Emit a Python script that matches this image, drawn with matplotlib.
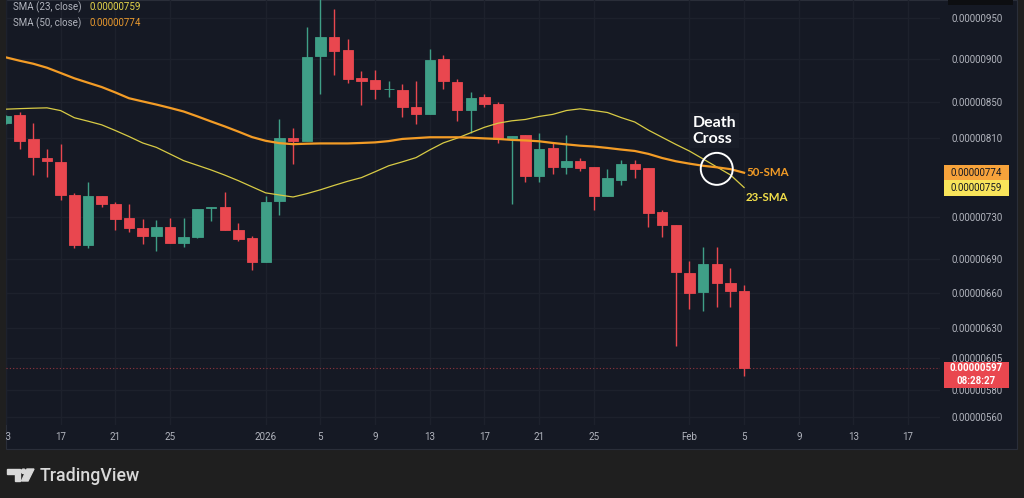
"""TradingView-style daily candles with SMA 23 / SMA 50 death cross."""
import matplotlib
matplotlib.use("Agg")
import matplotlib.pyplot as plt
import matplotlib.dates as mdates
from matplotlib.patches import Rectangle, Ellipse, Polygon
from matplotlib.ticker import NullLocator, NullFormatter
import numpy as np
import pandas as pd

# ---- data (prices in units of 1e-8) ----
dates = pd.date_range("2025-12-13", "2026-02-05", freq="D")

opens = [827.0, 835.5, 809.0, 789.1, 784.6, 751.9, 703.2, 750.5, 742.6, 728.8,
         719.2, 711.6, 720.4, 705.3, 710.4, 738.5, 739.2, 717.6, 709.7, 687.7,
         745.3, 810.8, 807.2, 903.3, 926.4, 910.9, 878.1, 875.0, 864.6, 863.8,
         844.2, 836.7, 899.7, 872.7, 841.2, 855.5, 847.9, 810.1, 814.0, 771.1,
         800.0, 780.0, 786.2, 780.4, 750.2, 767.0, 783.5, 778.9, 734.3, 721.8,
         678.0, 661.1, 686.2, 668.4, 661.4]
highs = [836.0, 839.2, 827.0, 798.6, 803.9, 753.5, 764.5, 750.5, 744.6, 742.3,
         727.8, 726.8, 728.5, 728.5, 737.5, 739.9, 754.8, 723.7, 711.6, 750.2,
         830.8, 820.9, 939.5, 980.0, 961.8, 923.9, 885.9, 887.0, 874.2, 870.7,
         874.2, 912.1, 904.9, 876.2, 861.2, 858.9, 850.5, 812.6, 814.0, 816.2,
         804.7, 813.7, 789.4, 780.4, 778.3, 787.7, 787.0, 778.9, 736.5, 721.8,
         688.9, 701.6, 701.6, 682.3, 667.3]
lows = [826.0, 798.3, 772.1, 769.6, 747.0, 700.1, 700.1, 739.2, 717.3, 715.1,
        704.1, 697.9, 705.3, 701.6, 709.7, 725.9, 717.3, 707.2, 680.7, 687.7,
        732.0, 783.5, 807.2, 858.9, 881.2, 871.5, 846.4, 853.2, 855.5, 833.7,
        825.6, 836.7, 865.0, 829.2, 815.5, 844.2, 804.7, 743.0, 764.5, 764.5,
        773.1, 773.1, 775.8, 736.5, 750.2, 761.2, 768.6, 720.4, 710.4, 615.4,
        646.1, 644.6, 647.5, 647.5, 591.4]
closes = [834.8, 807.2, 790.5, 785.9, 751.5, 703.2, 750.5, 742.3, 727.5, 718.9,
          711.6, 720.4, 705.3, 710.6, 737.5, 739.5, 717.3, 708.5, 687.7, 744.3,
          810.8, 807.5, 902.8, 926.4, 910.0, 876.2, 873.9, 864.6, 864.8, 844.2,
          836.7, 898.9, 874.2, 840.8, 855.0, 847.9, 809.4, 812.6, 771.1, 798.6,
          780.0, 785.9, 779.3, 750.2, 768.6, 782.8, 778.3, 733.9, 721.8, 678.9,
          660.3, 686.2, 668.4, 661.4, 597.0]

sma23 = [842.1, 842.7, 843.2, 843.6, 840.5, 832.6, 828.8, 824.8, 818.6, 812.1,
         805.2, 800.5, 793.5, 786.5, 781.7, 776.9, 771.6, 765.9, 759.7, 753.6,
         751.5, 749.5, 752.8, 756.7, 761.1, 765.3, 769.0, 775.0, 781.2, 785.3,
         789.7, 797.8, 805.3, 810.3, 816.2, 822.1, 826.6, 829.2, 830.7, 834.0,
         836.3, 840.6, 842.5, 840.6, 838.4, 832.8, 827.9, 819.0, 811.3, 803.7,
         796.6, 788.3, 780.0, 771.8, 759.0]
sma50 = [902.0, 898.0, 894.4, 889.7, 883.5, 877.3, 872.2, 867.2, 861.0, 854.4,
         850.8, 847.3, 843.5, 839.5, 834.1, 828.5, 823.1, 817.4, 811.5, 807.5,
         805.0, 803.9, 804.4, 804.7, 804.7, 804.7, 805.2, 805.8, 807.2, 809.5,
         810.4, 811.3, 811.3, 811.3, 810.8, 810.1, 809.5, 808.5, 807.9, 807.0,
         805.2, 803.7, 802.3, 801.4, 799.9, 798.2, 796.7, 793.6, 789.3, 785.9,
         783.4, 781.2, 779.6, 777.7, 774.0]

price_ticks = [950, 900, 850, 810, 730, 690, 660, 630, 605, 580, 560]
tick_dates = ["2025-12-13", "2025-12-17", "2025-12-21", "2025-12-25", "2026-01-01",
              "2026-01-05", "2026-01-09", "2026-01-13", "2026-01-17", "2026-01-21",
              "2026-01-25", "2026-02-01", "2026-02-05", "2026-02-09", "2026-02-13",
              "2026-02-17"]
tick_labels = ["13", "17", "21", "25", "2026", "5", "9", "13", "17", "21", "25",
               "Feb", "5", "9", "13", "17"]
cross_date = "2026-02-03"
cross_price = 778.0
timer_text = "08:28:27"

# ---- style ----
BG_OUT = "#1f1f1f"
BG = "#151924"
GRID = "#1d212c"
TXT = "#b2b5be"
UP = "#3f9f87"
DOWN = "#e9474f"
ORANGE = "#f39c26"
YELLOW = "#d8cb45"
FONT = "Roboto"

W, H = 1024, 498


def fx(px):
    return px / W


def fy(py):
    return 1 - py / H


fig = plt.figure(figsize=(W / 100, H / 100), dpi=100, facecolor=BG_OUT)

panel = Rectangle((fx(6), fy(449)), fx(1017) - fx(6), fy(0) - fy(449),
                  transform=fig.transFigure, facecolor=BG, edgecolor="#2a2e39",
                  lw=0.8, zorder=0)
fig.add_artist(panel)
fig.add_artist(Rectangle((fx(948), fy(5)), fx(1013) - fx(948), fy(0) - fy(5),
                         transform=fig.transFigure, facecolor="#0d0e11",
                         edgecolor="none", zorder=1))

ax = fig.add_axes([fx(6), fy(425), fx(940) - fx(6), fy(0) - fy(425)])
ax.set_facecolor("none")
ax.set_yscale("log")
px_per_ln = 753.8
ax.set_ylim(950 * np.exp(-(425 - 18.3) / px_per_ln), 950 * np.exp(18.3 / px_per_ln))
d0 = mdates.date2num(pd.Timestamp("2025-12-17"))
px_per_day = 13.71
ax.set_xlim(d0 + (6 - 58) / px_per_day, d0 + (940 - 58) / px_per_day)

x = mdates.date2num(dates)
o = np.array(opens)
c = np.array(closes)
cols = [UP if cc >= oo else DOWN for oo, cc in zip(o, c)]

ax.vlines(x, lows, highs, colors=cols, lw=1, zorder=2)
ax.bar(x, c - o, bottom=o, width=0.76, color=cols, edgecolor=cols,
       linewidth=0.6, zorder=3)

ax.plot(x, sma23, color=YELLOW, lw=0.9, zorder=4)
ax.plot(x, sma50, color=ORANGE, lw=1.6, zorder=4)
ax.axhline(closes[-1], color=DOWN, lw=0.8, ls=(0, (1, 2)), alpha=0.6, zorder=1)

# axes styling
for s in ax.spines.values():
    s.set_visible(False)
ax.yaxis.tick_right()
ax.set_yticks(price_ticks)
ax.set_yticklabels([f"{v * 1e-8:.8f}" for v in price_ticks])
ax.yaxis.set_minor_locator(NullLocator())
ax.yaxis.set_minor_formatter(NullFormatter())
ax.tick_params(axis="y", length=0, pad=8.6, labelsize=7, labelcolor=TXT)
ax.set_xticks(mdates.date2num(pd.to_datetime(tick_dates)))
ax.set_xticklabels(tick_labels)
ax.tick_params(axis="x", length=0, pad=5, labelsize=7, labelcolor=TXT)
for lbl in ax.get_xticklabels() + ax.get_yticklabels():
    lbl.set_fontfamily(FONT)
ax.get_xticklabels()[0].set_clip_path(panel)
ax.grid(True, color=GRID, lw=1)
ax.set_axisbelow(True)

# legend (top-left)
fig.text(fx(13), fy(7), "SMA (23, close)", color=TXT, fontsize=7, family=FONT, va="center")
fig.text(fx(90), fy(7), f"{sma23[-1] * 1e-8:.8f}", color="#e6d64a", fontsize=7,
         family=FONT, va="center")
fig.text(fx(13), fy(23), "SMA (50, close)", color=TXT, fontsize=7, family=FONT, va="center")
fig.text(fx(90), fy(23), f"{sma50[-1] * 1e-8:.8f}", color="#eb9a2e", fontsize=7,
         family=FONT, va="center")


def price_py(p):
    return H - ax.transData.transform((x[0], p))[1]


def data_px(date, p):
    dx, dy = ax.transData.transform((mdates.date2num(pd.Timestamp(date)), p))
    return dx, H - dy


def badge(top, bottom, color, lines, tcolor, weight="normal"):
    fig.add_artist(Rectangle((fx(944), fy(bottom)), fx(1009) - fx(944),
                             fy(top) - fy(bottom), transform=fig.transFigure,
                             facecolor=color, edgecolor="none", zorder=5))
    step = (bottom - top) / len(lines)
    for k, t in enumerate(lines):
        fig.text(fx(976.5), fy(top + step * (k + 0.5)), t, color=tcolor, fontsize=7,
                 family=FONT, ha="center", va="center", weight=weight, zorder=6)


y50 = price_py(sma50[-1])
badge(y50 - 7.7, y50 + 7.7, "#f7a33b", [f"{sma50[-1] * 1e-8:.8f}"], "#131722")
badge(y50 + 7.7, y50 + 23.5, "#f8e45a", [f"{sma23[-1] * 1e-8:.8f}"], "#131722")
yc = price_py(closes[-1])
badge(yc - 6.5, yc + 19.5, DOWN, [f"{closes[-1] * 1e-8:.8f}", timer_text], "white",
      weight="bold")

# death cross annotation
cx, cy = data_px(cross_date, cross_price)
fig.add_artist(Ellipse((fx(cx), fy(cy)), 32 / W, 32 / H, transform=fig.transFigure,
                       facecolor="none", edgecolor="white", lw=1.4, zorder=6))
fig.text(fx(cx - 24), fy(cy - 38), "Death\nCross", color="white", fontsize=11.5,
         family="Lato", weight="bold", ha="left", va="center", linespacing=1.12,
         bbox=dict(facecolor="#191d28", edgecolor="none", pad=2), zorder=6)
fig.text(fx(746), fy(y50), "50-SMA", color=ORANGE, fontsize=8.3, family="Lato",
         weight="bold", va="center", zorder=6)
fig.text(fx(746), fy(price_py(sma23[-1]) + 10), "23-SMA", color="#f2df4a", fontsize=8.3,
         family="Lato", weight="bold", va="center", zorder=6)

# TradingView footer logo
LOGO = "#d9d9d9"
fig.add_artist(Polygon([(fx(7), fy(469)), (fx(20), fy(469)), (fx(20), fy(481)),
                        (fx(14.5), fy(481)), (fx(14.5), fy(473.5)), (fx(7), fy(473.5))],
                       closed=True, transform=fig.transFigure, color=LOGO))
fig.add_artist(Ellipse((fx(23.5), fy(471.3)), 4.4 / W, 4.4 / H,
                       transform=fig.transFigure, color=LOGO))
fig.add_artist(Polygon([(fx(27), fy(469)), (fx(34), fy(469)), (fx(28), fy(481)),
                        (fx(21.5), fy(481))], closed=True, transform=fig.transFigure,
                       color=LOGO))
fig.text(fx(40), fy(475.5), "TradingView", color=LOGO, fontsize=12.8, family=FONT,
         weight="medium", va="center")

fig.savefig("out.png", dpi=100, facecolor=BG_OUT)
